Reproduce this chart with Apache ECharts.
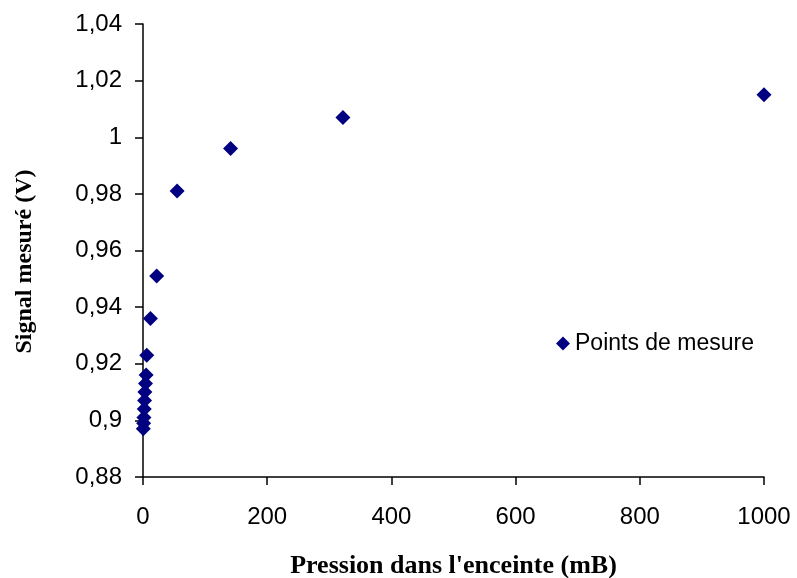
<!DOCTYPE html>
<html>
<head>
<meta charset="utf-8">
<script src="https://cdn.jsdelivr.net/npm/echarts@6/dist/echarts.min.js"></script>
<style>
  html, body { margin: 0; padding: 0; background: #fff; }
  #chart { width: 797px; height: 578px; }
</style>
</head>
<body>
<div id="chart"></div>
<script>
// pressure (mB) and measured signal (V)
const pression = [1000, 322, 141, 55, 22, 12, 6, 5, 4, 3, 2.5, 2, 1.5, 1, 0.5];
const signal = [1.015, 1.007, 0.996, 0.981, 0.951, 0.936, 0.923, 0.916, 0.913, 0.910, 0.907, 0.904, 0.901, 0.899, 0.897];

const chart = echarts.init(document.getElementById('chart'));

const comma = v => String(+v.toFixed(2)).replace('.', ',');

chart.setOption({
  animation: false,
  grid: { left: 143, right: 33, top: 24, bottom: 101, outerBoundsMode: 'none', containLabel: false },
  legend: {
    data: ['Points de mesure'],
    left: 551,
    top: 327,
    icon: 'diamond',
    itemWidth: 14,
    itemHeight: 14,
    itemGap: 4,
    textStyle: { fontFamily: 'Liberation Sans', fontSize: 23, color: '#000' }
  },
  xAxis: {
    type: 'value',
    min: 0,
    max: 1000,
    interval: 200,
    name: "Pression dans l'enceinte (mB)",
    nameLocation: 'middle',
    nameGap: 76,
    nameTextStyle: { fontFamily: 'Liberation Serif', fontWeight: 'bold', fontSize: 26, color: '#000' },
    axisLine: { lineStyle: { color: '#000', width: 1.5 } },
    axisTick: { length: 8, lineStyle: { color: '#000', width: 1.5 } },
    axisLabel: { margin: 28, fontFamily: 'Liberation Sans', fontSize: 24, color: '#000', formatter: v => String(v) },
    splitLine: { show: false }
  },
  yAxis: {
    type: 'value',
    min: 0.88,
    max: 1.04,
    interval: 0.02,
    name: 'Signal mesuré (V)',
    nameLocation: 'middle',
    nameGap: 106,
    nameTextStyle: { fontFamily: 'Liberation Serif', fontWeight: 'bold', fontSize: 24, color: '#000', padding: [0, 22, 0, 0] },
    axisLine: { show: true, lineStyle: { color: '#000', width: 1.5 } },
    axisTick: { show: true, length: 8, lineStyle: { color: '#000', width: 1.5 } },
    axisLabel: { margin: 21, fontFamily: 'Liberation Sans', fontSize: 24, color: '#000', formatter: comma },
    splitLine: { show: false }
  },
  series: [{
    name: 'Points de mesure',
    type: 'scatter',
    symbol: 'diamond',
    symbolSize: 15,
    itemStyle: { color: '#000080', opacity: 1 },
    data: pression.map((p, i) => [p, signal[i]])
  }]
});
</script>
</body>
</html>
